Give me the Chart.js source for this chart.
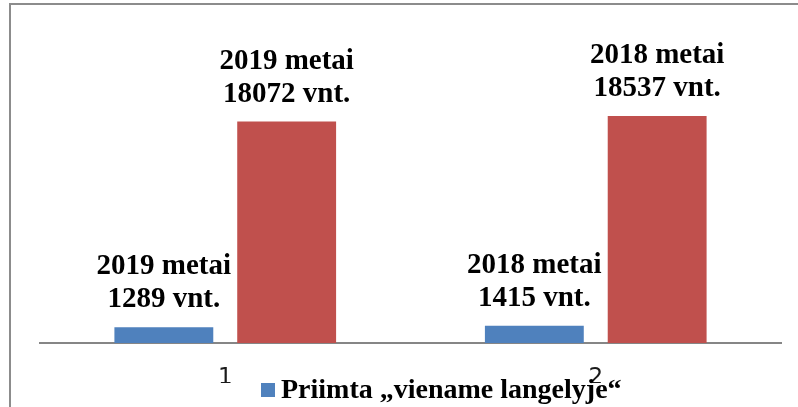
<!DOCTYPE html>
<html>
<head>
<meta charset="utf-8">
<script src="https://cdn.jsdelivr.net/npm/chart.js@4"></script>
<style>
html,body{margin:0;padding:0;background:#fff;}
#wrap{width:798px;height:407px;position:relative;}
</style>
</head>
<body>
<div id="wrap"><canvas id="c" width="798" height="407"></canvas></div>
<script>
const categories = ["1", "2"];
const seriesNames = ["Priimta „viename langelyje“", "Iš viso"];
const years = ["2019", "2018"];
const receivedSingleWindow = [1289, 1415];
const totalDocs = [18072, 18537];
const unitLabel = "vnt.";
const yearWord = "metai";

const colors = ["#4F81BD", "#C0504D"];

const framePlugin = {
  id: 'frame',
  beforeDraw(chart) {
    const ctx = chart.ctx;
    ctx.save();
    ctx.fillStyle = '#fff';
    ctx.fillRect(0, 0, chart.width, chart.height);
    ctx.strokeStyle = '#8c8c8c';
    ctx.lineWidth = 2;
    ctx.beginPath();
    ctx.moveTo(10, chart.height + 5);
    ctx.lineTo(10, 4);
    ctx.lineTo(chart.width + 5, 4);
    ctx.stroke();
    ctx.restore();
  }
};

const labelPlugin = {
  id: 'barLabels',
  afterDatasetsDraw(chart) {
    const ctx = chart.ctx;
    ctx.save();
    ctx.font = 'bold 29px "Liberation Serif", "Times New Roman", serif';
    ctx.fillStyle = '#000';
    ctx.textAlign = 'center';
    ctx.textBaseline = 'alphabetic';
    chart.data.datasets.forEach((ds, di) => {
      const meta = chart.getDatasetMeta(di);
      meta.data.forEach((bar, i) => {
        const line1 = years[i] + ' ' + yearWord;
        const line2 = ds.data[i] + ' ' + unitLabel;
        const base = bar.y - 20;
        ctx.fillText(line2, bar.x, base);
        ctx.fillText(line1, bar.x, base - 33);
      });
    });
    ctx.restore();
  },
  afterDraw(chart) {
    const ctx = chart.ctx;
    const ds = chart.data.datasets[0];
    ctx.save();
    ctx.fillStyle = ds.backgroundColor;
    ctx.fillRect(261, 383, 14, 14);
    ctx.font = 'bold 28px "Liberation Serif", "Times New Roman", serif';
    ctx.fillStyle = '#000';
    ctx.textAlign = 'left';
    ctx.textBaseline = 'alphabetic';
    ctx.fillText(ds.label, 281, 398);
    ctx.restore();
  }
};

new Chart(document.getElementById('c'), {
  type: 'bar',
  data: {
    labels: categories,
    datasets: [
      { label: seriesNames[0], data: receivedSingleWindow, backgroundColor: colors[0], borderWidth: 0,
        categoryPercentage: 0.663, barPercentage: 0.805 },
      { label: seriesNames[1], data: totalDocs, backgroundColor: colors[1], borderWidth: 0,
        categoryPercentage: 0.663, barPercentage: 0.805 }
    ]
  },
  options: {
    responsive: false,
    animation: false,
    devicePixelRatio: 1,
    layout: { padding: { left: 40, right: 17, top: 98, bottom: 24 } },
    plugins: {
      legend: { display: false },
      title: { display: false },
      tooltip: { enabled: false }
    },
    scales: {
      x: {
        grid: { display: false, drawTicks: false },
        border: { display: true, color: '#868686', width: 2 },
        ticks: {
          color: '#1a1a1a',
          padding: 21,
          autoSkip: false,
          maxRotation: 0,
          font: { family: '"DejaVu Sans", sans-serif', size: 23 }
        },
        afterFit(scale) { scale.height = 40; }
      },
      y: {
        display: false,
        min: 0,
        max: 20000
      }
    }
  },
  plugins: [framePlugin, labelPlugin]
});
</script>
</body>
</html>
